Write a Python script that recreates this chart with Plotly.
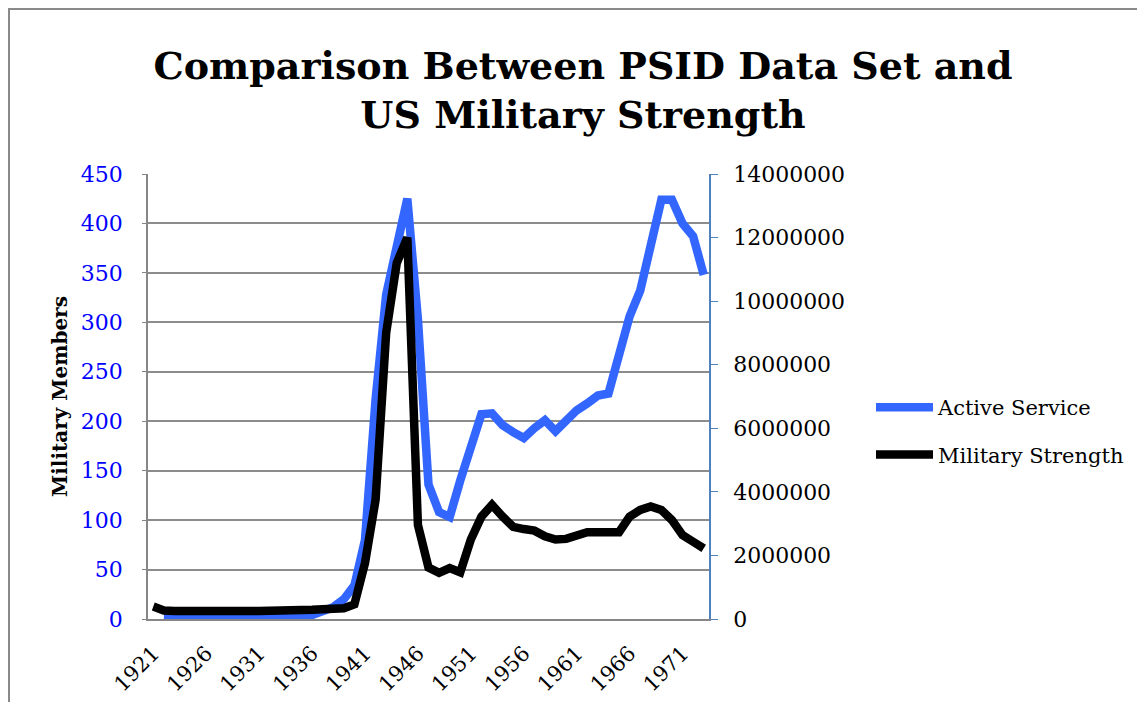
import plotly.graph_objects as go

years = [1921, 1922, 1923, 1924, 1925, 1926, 1927, 1928, 1929, 1930,
         1931, 1932, 1933, 1934, 1935, 1936, 1937, 1938, 1939, 1940,
         1941, 1942, 1943, 1944, 1945, 1946, 1947, 1948, 1949, 1950,
         1951, 1952, 1953, 1954, 1955, 1956, 1957, 1958, 1959, 1960,
         1961, 1962, 1963, 1964, 1965, 1966, 1967, 1968, 1969, 1970,
         1971, 1972, 1973]

active_service = [None, 2, 1, 1, 2, 2, 2, 2, 1, 2,
                  1, 1, 1, 2, 3, 4, 7, 12, 20, 34,
                  80, 222, 328, 377, 425, 303, 136, 108, 103, 140,
                  174, 207, 208, 196, 189, 183, 193, 201, 190, 200,
                  211, 218, 226, 228, 266, 306, 332, 378, 424, 424,
                  400, 387, 348]

military_strength = [390000, 270000, 250000, 260000, 250000, 250000, 250000, 250000, 255000, 255000,
                     250000, 245000, 245000, 250000, 250000, 290000, 310000, 320000, 335000, 460000,
                     1760000, 3750000, 9000000, 11200000, 12000000, 2960000, 1620000, 1450000, 1600000, 1470000,
                     2500000, 3220000, 3590000, 3220000, 2900000, 2830000, 2780000, 2600000, 2500000, 2520000,
                     2610000, 2730000, 2730000, 2730000, 2730000, 3220000, 3430000, 3540000, 3430000, 3110000,
                     2640000, 2430000, 2220000]

x_tick_labels = [1921, 1926, 1931, 1936, 1941, 1946, 1951, 1956, 1961, 1966, 1971]

FONT = "DejaVu Serif"
# the page body has an 8px margin, so the figure starts at (8, 8)
W, H = 1129, 694
ML, MT = 140, 166
PR, PB = 701, 611          # right / bottom edge of the plot area inside the figure
MR, MB = W - PR, H - PB
pw = PR - ML
ph = PB - MT

fig = go.Figure()
fig.add_trace(go.Scatter(
    x=years, y=active_service, name="Active Service", mode="lines",
    line=dict(color="#3366FF", width=8.5), yaxis="y", legendgroup="a",
    connectgaps=False))
fig.add_trace(go.Scatter(
    x=years, y=military_strength, name="Military Strength", mode="lines",
    line=dict(color="#000000", width=8.5), yaxis="y2", legendgroup="b"))

fig.update_layout(
    width=W, height=H, autosize=False,
    margin=dict(l=ML, r=MR, t=MT, b=MB, pad=0),
    paper_bgcolor="white", plot_bgcolor="white",
    font=dict(family=FONT, color="black", size=20),
    title=dict(
        text="<b>Comparison Between PSID Data Set and<br>US Military Strength</b>",
        font=dict(family=FONT, size=38, color="black"),
        x=575 / W, xref="container", xanchor="center",
        y=1 - 71 / H, yref="container", yanchor="top", automargin=False),
    xaxis=dict(
        range=[1920.5, 1973.5], tickmode="array", tickvals=x_tick_labels,
        ticktext=[str(v) for v in x_tick_labels], tickangle=-45,
        showgrid=False, zeroline=False, showline=True, linecolor="#868686",
        linewidth=1.5, ticks="", ticklabelstandoff=12, automargin=False,
        tickfont=dict(family=FONT, size=21, color="black")),
    yaxis=dict(
        range=[0, 450], tick0=0, dtick=50, showgrid=True, gridcolor="#8c8c8c",
        gridwidth=1.5, zeroline=False, showline=True, linecolor="#868686",
        linewidth=1.5, ticks="outside", ticklen=4, tickcolor="#868686",
        ticklabelstandoff=15, automargin=False,
        tickfont=dict(family=FONT, size=22, color="#0000FF"),
        title=dict(text="<b>Military Members</b>", standoff=8,
                   font=dict(family=FONT, size=20, color="black"))),
    yaxis2=dict(
        range=[0, 14000000], tick0=0, dtick=2000000, tickformat="d",
        overlaying="y", side="right", showgrid=False, zeroline=False,
        showline=True, linecolor="#4F81BD", linewidth=1.5, automargin=False,
        ticks="outside", ticklen=7, tickcolor="#4F81BD", ticklabelstandoff=11,
        tickfont=dict(family=FONT, size=22, color="black")),
    legend=dict(
        xref="container", yref="container",
        x=863 / W, y=1 - 423 / H, xanchor="left", yanchor="middle",
        font=dict(family=FONT, size=21, color="black"), itemwidth=57,
        tracegroupgap=17, bgcolor="rgba(0,0,0,0)", borderwidth=0),
    showlegend=True,
    shapes=[dict(
        type="rect", xref="paper", yref="paper",
        x0=(1 - ML) / pw, x1=(W + 30 - ML) / pw,
        y0=-(H + 30 - PB) / ph, y1=(PB - 1) / ph,
        line=dict(color="#8a8a8a", width=2), fillcolor="rgba(0,0,0,0)",
        layer="below")],
)

fig.write_html("out.html")
